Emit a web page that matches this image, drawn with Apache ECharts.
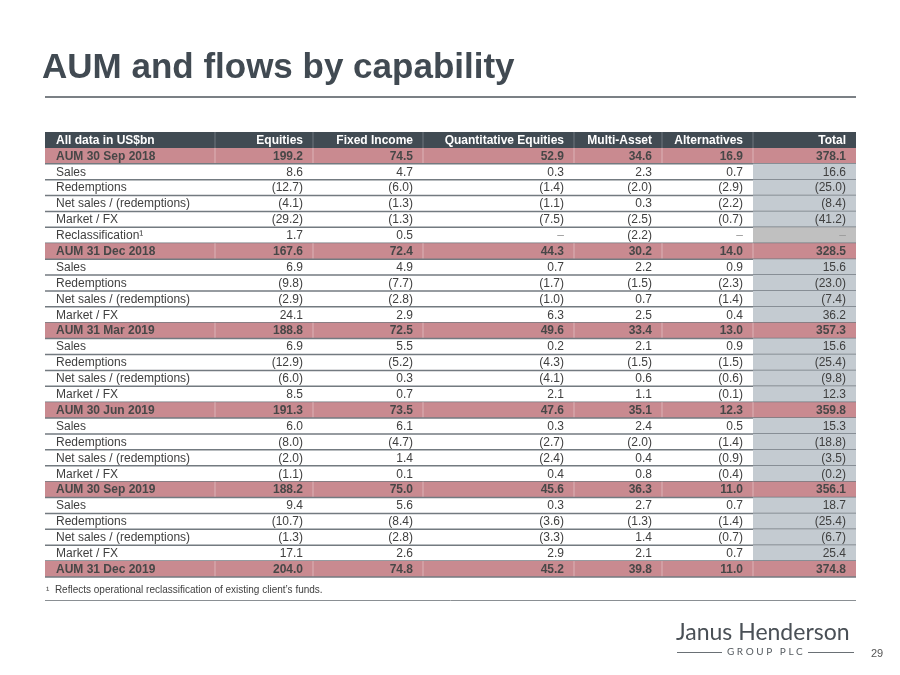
<!DOCTYPE html>
<html>
<head>
<meta charset="utf-8">
<script src="https://cdn.jsdelivr.net/npm/echarts@6/dist/echarts.min.js"></script>
<style>html,body{margin:0;padding:0;background:#fff;}#chart{width:900px;height:675px;}</style>
</head>
<body>
<div id="chart"></div>
<script>
// ---- data ----
const columns = ['All data in US$bn', 'Equities', 'Fixed Income', 'Quantitative Equities', 'Multi-Asset', 'Alternatives', 'Total'];
const rowLabels = [
  'AUM 30 Sep 2018', 'Sales', 'Redemptions', 'Net sales / (redemptions)', 'Market / FX', 'Reclassification\u00B9',
  'AUM 31 Dec 2018', 'Sales', 'Redemptions', 'Net sales / (redemptions)', 'Market / FX',
  'AUM 31 Mar 2019', 'Sales', 'Redemptions', 'Net sales / (redemptions)', 'Market / FX',
  'AUM 30 Jun 2019', 'Sales', 'Redemptions', 'Net sales / (redemptions)', 'Market / FX',
  'AUM 30 Sep 2019', 'Sales', 'Redemptions', 'Net sales / (redemptions)', 'Market / FX',
  'AUM 31 Dec 2019'
];
const equities = [199.2, 8.6, -12.7, -4.1, -29.2, 1.7, 167.6, 6.9, -9.8, -2.9, 24.1, 188.8, 6.9, -12.9, -6.0, 8.5, 191.3, 6.0, -8.0, -2.0, -1.1, 188.2, 9.4, -10.7, -1.3, 17.1, 204.0];
const fixedIncome = [74.5, 4.7, -6.0, -1.3, -1.3, 0.5, 72.4, 4.9, -7.7, -2.8, 2.9, 72.5, 5.5, -5.2, 0.3, 0.7, 73.5, 6.1, -4.7, 1.4, 0.1, 75.0, 5.6, -8.4, -2.8, 2.6, 74.8];
const quantEquities = [52.9, 0.3, -1.4, -1.1, -7.5, null, 44.3, 0.7, -1.7, -1.0, 6.3, 49.6, 0.2, -4.3, -4.1, 2.1, 47.6, 0.3, -2.7, -2.4, 0.4, 45.6, 0.3, -3.6, -3.3, 2.9, 45.2];
const multiAsset = [34.6, 2.3, -2.0, 0.3, -2.5, -2.2, 30.2, 2.2, -1.5, 0.7, 2.5, 33.4, 2.1, -1.5, 0.6, 1.1, 35.1, 2.4, -2.0, 0.4, 0.8, 36.3, 2.7, -1.3, 1.4, 2.1, 39.8];
const alternatives = [16.9, 0.7, -2.9, -2.2, -0.7, null, 14.0, 0.9, -2.3, -1.4, 0.4, 13.0, 0.9, -1.5, -0.6, -0.1, 12.3, 0.5, -1.4, -0.9, -0.4, 11.0, 0.7, -1.4, -0.7, 0.7, 11.0];
const total = [378.1, 16.6, -25.0, -8.4, -41.2, null, 328.5, 15.6, -23.0, -7.4, 36.2, 357.3, 15.6, -25.4, -9.8, 12.3, 359.8, 15.3, -18.8, -3.5, -0.2, 356.1, 18.7, -25.4, -6.7, 25.4, 374.8];
const footnote = '\u00B9  Reflects operational reclassification of existing client\u2019s funds.';

// ---- layout (not data) ----
const colEdges = [0, 170, 268, 378, 529, 617, 708, 811];
const FONT = '"Liberation Sans", Arial, sans-serif';
const valueCols = [equities, fixedIncome, quantEquities, multiAsset, alternatives, total];
const nRows = rowLabels.length + 1;

function fmt(v) {
  if (v === null || v === undefined) return '\u2013';
  if (v < 0) return '(' + Math.abs(v).toFixed(1) + ')';
  return v.toFixed(1);
}

const rowData = [];
for (let r = 0; r < nRows; r++) rowData.push([0, r]);

function renderItem(params, api) {
  const r = params.dataIndex;
  const top = api.coord([0, r])[1];
  const bot = api.coord([0, r + 1])[1];
  const h = bot - top;
  const xs = colEdges.map(e => api.coord([e, r])[0]);
  const isHeader = r === 0;
  const label = isHeader ? columns[0] : rowLabels[r - 1];
  const isAum = !isHeader && label.indexOf('AUM') === 0;
  const isReclass = !isHeader && label.indexOf('Reclassification') === 0;
  const children = [];
  if (isHeader || isAum) {
    children.push({ type: 'rect', shape: { x: xs[0], y: top, width: xs[7] - xs[0], height: h },
      style: { fill: isHeader ? '#414b53' : '#c98a90' } });
    for (let c = 1; c < 7; c++) {
      children.push({ type: 'line', shape: { x1: xs[c], y1: top, x2: xs[c], y2: bot },
        style: { stroke: isHeader ? '#6e777e' : '#dcb2b6', lineWidth: 1 } });
    }
  } else {
    children.push({ type: 'rect', shape: { x: xs[6], y: top, width: xs[7] - xs[6], height: h },
      style: { fill: isReclass ? '#c0c0c0' : '#c4cbd1' } });
  }
  const color = isHeader ? '#ffffff' : (isAum ? '#474747' : '#404040');
  const weight = (isHeader || isAum) ? 'bold' : 'normal';
  const cy = (top + bot) / 2 + 0.5;
  children.push({ type: 'text', style: { x: xs[0] + 11, y: cy, text: label, fill: color,
    font: weight + ' 12px ' + FONT, textAlign: 'left', textVerticalAlign: 'middle' } });
  for (let c = 1; c < 7; c++) {
    let txt, fill = color;
    if (isHeader) txt = columns[c];
    else {
      const v = valueCols[c - 1][r - 1];
      txt = fmt(v);
      if (v === null) fill = '#9a9a9a';
    }
    children.push({ type: 'text', style: { x: xs[c + 1] - 10, y: cy, text: txt, fill: fill,
      font: weight + ' 12px ' + FONT, textAlign: 'right', textVerticalAlign: 'middle' } });
  }
  if (!isHeader) {
    children.push({ type: 'line', shape: { x1: xs[0], y1: bot, x2: xs[7], y2: bot },
      style: { stroke: '#737a80', lineWidth: 1.5 } });
  }
  return { type: 'group', children: children };
}

const chart = echarts.init(document.getElementById('chart'), null, { renderer: 'canvas' });
chart.setOption({
  animation: false,
  backgroundColor: '#ffffff',
  grid: { left: 45, right: 44, top: 132, bottom: 98 },
  xAxis: { type: 'value', min: 0, max: 811, show: false },
  yAxis: { type: 'value', min: 0, max: nRows, inverse: true, show: false },
  series: [{
    type: 'custom',
    renderItem: renderItem,
    data: rowData,
    clip: false
  }],
  graphic: [
    { type: 'text', left: 42, top: 51, style: { text: 'AUM and flows by capability', fill: '#414a52',
      font: 'bold 35px ' + FONT } },
    { type: 'line', shape: { x1: 45, y1: 97, x2: 856, y2: 97 }, style: { stroke: '#7b8085', lineWidth: 2 } },
    { type: 'text', left: 46, top: 585, style: { text: footnote, fill: '#404040', font: '10px ' + FONT } },
    { type: 'line', shape: { x1: 45, y1: 600.5, x2: 856, y2: 600.5 }, style: { stroke: '#8a8f93', lineWidth: 1 } },
    { type: 'text', left: 676, top: 621, style: { text: 'Janus Henderson', fill: '#4a5056',
      font: '23px Lato, "Open Sans", sans-serif' } },
    { type: 'line', shape: { x1: 677, y1: 652.5, x2: 722, y2: 652.5 }, style: { stroke: '#6a7075', lineWidth: 1 } },
    { type: 'line', shape: { x1: 808, y1: 652.5, x2: 854, y2: 652.5 }, style: { stroke: '#6a7075', lineWidth: 1 } },
    { type: 'text', left: 727, top: 647, style: { text: 'G R O U P   P L C', fill: '#555b60',
      font: '10px Lato, "Open Sans", sans-serif' } },
    { type: 'text', left: 871, top: 648, style: { text: '29', fill: '#555555', font: '11px ' + FONT } }
  ]
});
</script>
</body>
</html>
